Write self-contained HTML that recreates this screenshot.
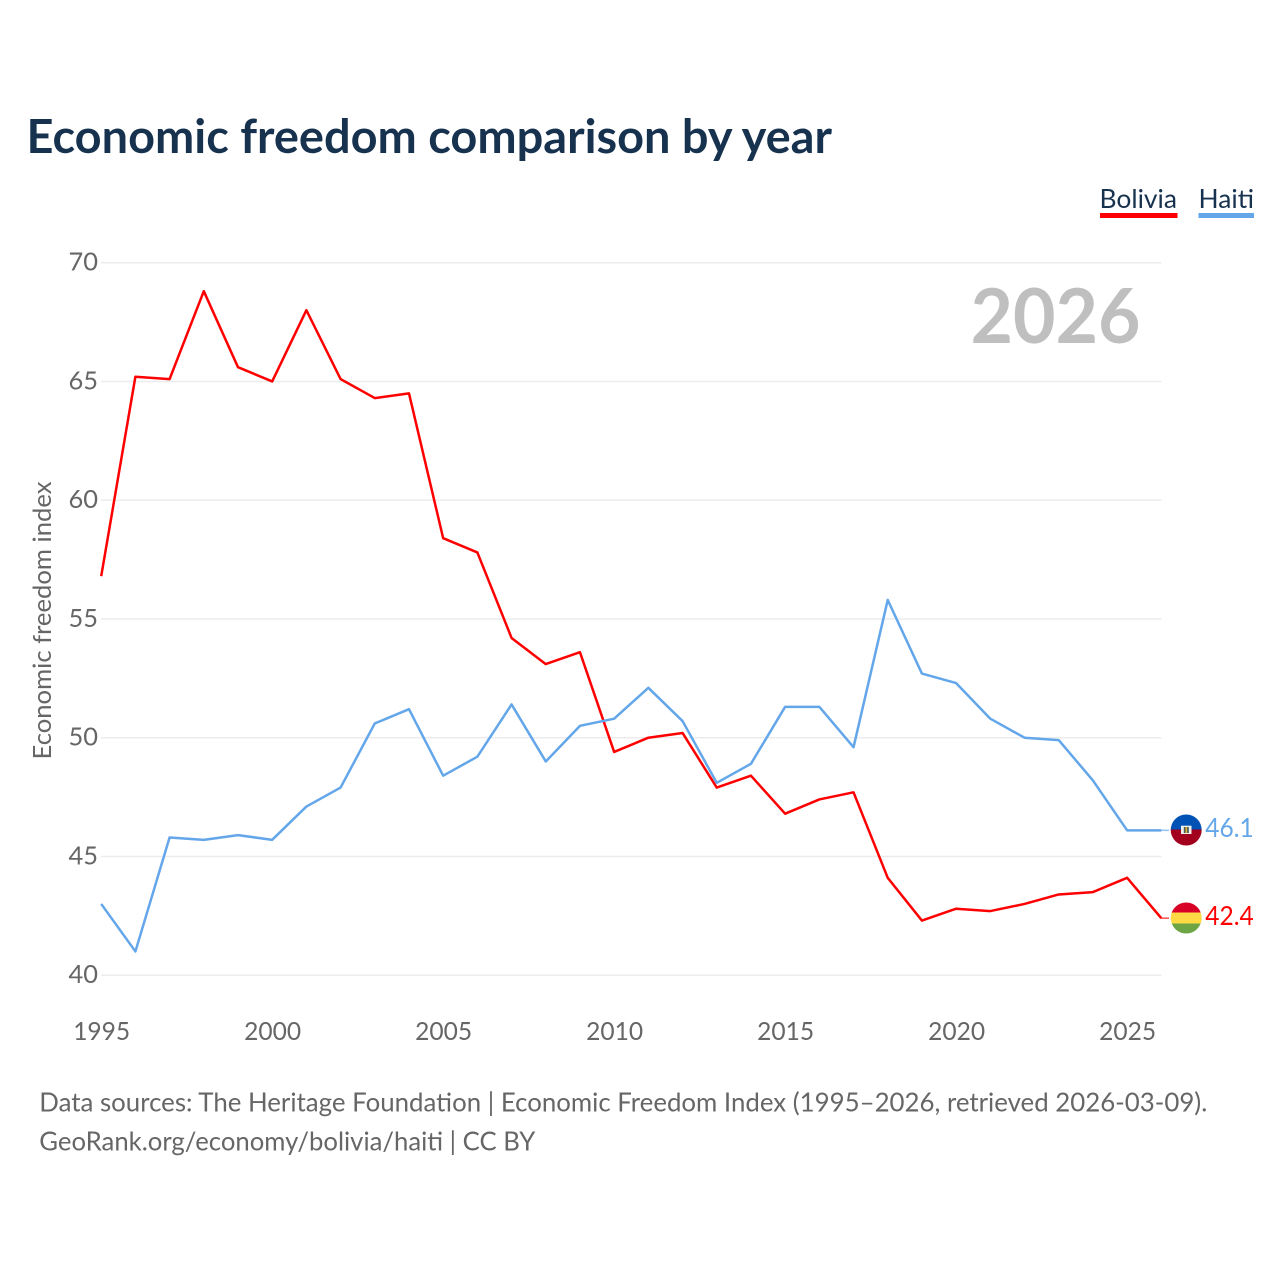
<!DOCTYPE html>
<html lang="en">
<head>
<meta charset="utf-8">
<title>Economic freedom comparison by year</title>
<style>
html,body{margin:0;padding:0;background:#fff;width:1280px;height:1280px;overflow:hidden}
svg{display:block}
text{font-family:"Lato","Carlito","Liberation Sans",sans-serif}
.tick{font-size:25.5px;fill:#666}
</style>
</head>
<body>
<svg id="chart" width="1280" height="1280" viewBox="0 0 1280 1280" xmlns="http://www.w3.org/2000/svg">
  <defs>
    <clipPath id="clip-haiti"><circle cx="1186.2" cy="830" r="15.5"/></clipPath>
    <clipPath id="clip-bolivia"><circle cx="1186.2" cy="918" r="15.5"/></clipPath>
  </defs>
  <text x="26.5" y="153" font-size="47" font-weight="700" fill="#17324f" textLength="805.5" lengthAdjust="spacingAndGlyphs">Economic freedom comparison by year</text>

  <g>
    <g>
      <text x="1099.5" y="208" font-size="26.5" fill="#17324f" textLength="77.5" lengthAdjust="spacingAndGlyphs">Bolivia</text>
      <rect x="1100" y="213" width="77.5" height="5" fill="#ff0000"/>
    </g>
    <g>
      <text x="1198.5" y="208" font-size="26.5" fill="#17324f" textLength="55.5" lengthAdjust="spacingAndGlyphs">Haiti</text>
      <rect x="1198.5" y="213" width="55.5" height="5" fill="#63a6ea"/>
    </g>
  </g>

  <g id="grid"></g>
  <g id="yticks"></g>
  <g id="xticks"></g>

  <text x="1055.5" y="343" text-anchor="middle" font-size="76" font-weight="700" fill="#bfbfbf" textLength="170" lengthAdjust="spacingAndGlyphs">2026</text>

  <text transform="translate(51,620.5) rotate(-90)" text-anchor="middle" font-size="25.5" fill="#666" textLength="278" lengthAdjust="spacingAndGlyphs">Economic freedom index</text>

  <g id="series"></g>

  <g>
    <g clip-path="url(#clip-haiti)">
      <rect x="1170" y="814" width="32" height="15.5" fill="#0052b4"/>
      <rect x="1170" y="829.5" width="32" height="16.5" fill="#a2001d"/>
      <rect x="1181" y="825.7" width="10.5" height="8.3" fill="#f0f0f0"/>
      <rect x="1183.8" y="827" width="5" height="6" fill="#4a5a50"/>
      <rect x="1185.5" y="827" width="1.6" height="6" fill="#e0b840"/>
    </g>
  </g>
  <g>
    <g clip-path="url(#clip-bolivia)">
      <rect x="1170" y="902" width="32" height="10.5" fill="#d80027"/>
      <rect x="1170" y="912.5" width="32" height="11" fill="#ffda44"/>
      <rect x="1170" y="923.5" width="32" height="11" fill="#6da544"/>
    </g>
  </g>

  <text x="1205.3" y="837" font-size="26.5" fill="#63a6ea" textLength="48.5" lengthAdjust="spacingAndGlyphs">46.1</text>
  <text x="1205.3" y="925" font-size="26.5" fill="#ff0000" textLength="48.5" lengthAdjust="spacingAndGlyphs">42.4</text>

  <g>
    <text x="39.3" y="1111.5" font-size="26" fill="#666" textLength="1168" lengthAdjust="spacingAndGlyphs">Data sources: The Heritage Foundation | Economic Freedom Index (1995–2026, retrieved 2026-03-09).</text>
    <text x="39.3" y="1150.5" font-size="26" fill="#666" textLength="496" lengthAdjust="spacingAndGlyphs">GeoRank.org/economy/bolivia/haiti | CC BY</text>
  </g>
</svg>
<script>
const years = [1995,1996,1997,1998,1999,2000,2001,2002,2003,2004,2005,2006,2007,2008,2009,2010,2011,2012,2013,2014,2015,2016,2017,2018,2019,2020,2021,2022,2023,2024,2025,2026];
const boliviaValues = [56.8,65.2,65.1,68.8,65.6,65.0,68.0,65.1,64.3,64.5,58.4,57.8,54.2,53.1,53.6,49.4,50.0,50.2,47.9,48.4,46.8,47.4,47.7,44.1,42.3,42.8,42.7,43.0,43.4,43.5,44.1,42.4];
const haitiValues = [43.0,41.0,45.8,45.7,45.9,45.7,47.1,47.9,50.6,51.2,48.4,49.2,51.4,49.0,50.5,50.8,52.1,50.7,48.1,48.9,51.3,51.3,49.6,55.8,52.7,52.3,50.8,50.0,49.9,48.2,46.1,46.1];
const yTickValues = [40,45,50,55,60,65,70];
const xTickValues = [1995,2000,2005,2010,2015,2020,2025];

const NS = 'http://www.w3.org/2000/svg';
const xScale = function (year) { return 101.2 + (year - 1995) * (1161.3 - 101.2) / 31; };
const yScale = function (value) { return 975.2 - (value - 40) * (975.2 - 262.7) / 30; };

const grid = document.getElementById('grid');
const yticks = document.getElementById('yticks');
const xticks = document.getElementById('xticks');
const series = document.getElementById('series');

yTickValues.forEach(function (value) {
  const line = document.createElementNS(NS, 'line');
  line.setAttribute('x1', 101);
  line.setAttribute('x2', 1161.5);
  line.setAttribute('y1', yScale(value));
  line.setAttribute('y2', yScale(value));
  line.setAttribute('stroke', '#ececec');
  line.setAttribute('stroke-width', 1.5);
  
  
  grid.appendChild(line);

  const label = document.createElementNS(NS, 'text');
  label.setAttribute('x', 98);
  label.setAttribute('y', yScale(value) + 8);
  label.setAttribute('text-anchor', 'end');
  label.setAttribute('class', 'tick');
  label.setAttribute('textLength', 29.5);
  label.setAttribute('lengthAdjust', 'spacingAndGlyphs');
  
  
  label.textContent = value;
  yticks.appendChild(label);
});

xTickValues.forEach(function (year) {
  const label = document.createElementNS(NS, 'text');
  label.setAttribute('x', xScale(year) + 0.5);
  label.setAttribute('y', 1040);
  label.setAttribute('text-anchor', 'middle');
  label.setAttribute('class', 'tick');
  label.setAttribute('textLength', 57);
  label.setAttribute('lengthAdjust', 'spacingAndGlyphs');
  
  
  label.textContent = year;
  xticks.appendChild(label);
});

function drawSeries(values, color, name) {
  const points = values.map(function (value, i) {
    return xScale(years[i]).toFixed(2) + ',' + yScale(value).toFixed(2);
  }).join(' ');
  const path = document.createElementNS(NS, 'polyline');
  path.setAttribute('points', points);
  path.setAttribute('fill', 'none');
  path.setAttribute('stroke', color);
  path.setAttribute('stroke-width', 2.5);
  path.setAttribute('stroke-linejoin', 'round');
  
  
  series.appendChild(path);

  const lastY = yScale(values[values.length - 1]);
  const lead = document.createElementNS(NS, 'line');
  lead.setAttribute('x1', xScale(years[years.length - 1]));
  lead.setAttribute('x2', 1169);
  lead.setAttribute('y1', lastY);
  lead.setAttribute('y2', lastY);
  lead.setAttribute('stroke', color);
  lead.setAttribute('stroke-opacity', 0.7);
  lead.setAttribute('stroke-width', 1.5);
  
  
  series.appendChild(lead);
}

drawSeries(boliviaValues, '#ff0000', 'bolivia');
drawSeries(haitiValues, '#63a6ea', 'haiti');
</script>
</body>
</html>
